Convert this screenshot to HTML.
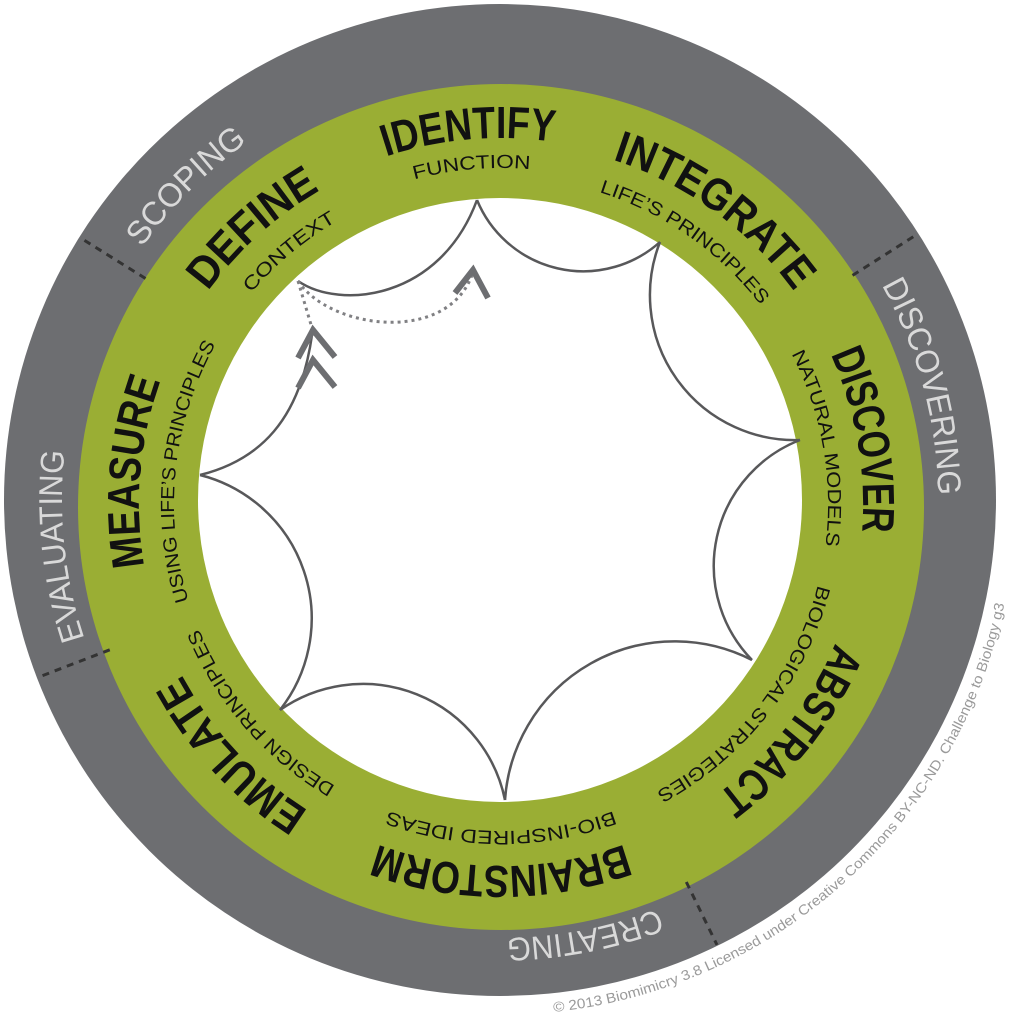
<!DOCTYPE html>
<html><head><meta charset="utf-8"><style>
html,body{margin:0;padding:0;background:#fff;}
svg{display:block;}
.t{font-family:"Liberation Sans",sans-serif;font-weight:bold;font-size:45px;fill:#111;}
.s{font-family:"Liberation Sans",sans-serif;font-size:19px;fill:#111;}
.g{font-family:"Liberation Sans",sans-serif;font-size:33px;fill:#d9d9d9;}
</style></head><body>
<svg width="1021" height="1023" viewBox="0 0 1021 1023" xmlns="http://www.w3.org/2000/svg">
<defs>
<path id="c362" d="M501,866 A362,362 0 1 1 501,142 A362,362 0 1 1 501,866"/>
<path id="c366" d="M501,870 A366,366 0 1 1 501,138 A366,366 0 1 1 501,870"/>
<path id="c327" d="M501,831 A327,327 0 1 1 501,177 A327,327 0 1 1 501,831"/>
<path id="c336" d="M501,840 A336,336 0 1 1 501,168 A336,336 0 1 1 501,840"/>
<path id="c438" d="M500,938 A438,438 0 1 1 500,62 A438,438 0 1 1 500,938"/>
<path id="cc" d="M553.8,1012 A515,515 0 0 0 1013,545"/>
</defs>
<circle cx="500" cy="500" r="496" fill="#6d6e71"/>
<circle cx="501" cy="507" r="423" fill="#9aae34"/>
<circle cx="500" cy="500" r="302" fill="#fff"/>
<g stroke="#333" stroke-width="3" stroke-dasharray="7 6">
<line x1="500" y1="82" x2="500" y2="5" transform="rotate(302 500 500)"/>
<line x1="500" y1="82" x2="500" y2="5" transform="rotate(57.5 500 500)"/>
<line x1="500" y1="75" x2="500" y2="5" transform="rotate(154 500 500)"/>
<line x1="500" y1="82" x2="500" y2="5" transform="rotate(249 500 500)"/>
</g>
<g fill="none" stroke="#58585a" stroke-width="2.5">
<path d="M298,281 C340,310 440,300 477,200"/>
<path d="M477,200 A115,115 0 0 0 660,242"/>
<path d="M660,242 A145,145 0 0 0 800,440"/>
<path d="M800,440 A135,135 0 0 0 752,660"/>
<path d="M752,660 A170,170 0 0 0 505,800"/>
<path d="M505,800 A145,145 0 0 0 280,710"/>
<path d="M280,710 A148,148 0 0 0 200,475"/>
<path d="M200,475 C260,460 300,420 312,335"/>
</g>
<g fill="none" stroke="#808083" stroke-width="3" stroke-dasharray="3 4">
<path d="M298,281 L312,328"/>
<path d="M298,281 C330,330 450,345 473,272"/>
</g>
<g fill="none" stroke="#6d6e71" stroke-width="6" stroke-linejoin="miter">
<polyline points="455,293 473,270 488,298"/>
<polyline points="298,358 313,330 335,357"/>
<polyline points="298,388 313,360 335,387"/>
</g>
<g class="t" text-anchor="middle">
<text transform="rotate(-5 501 504)"><textPath href="#c366" startOffset="50%" textLength="170" lengthAdjust="spacingAndGlyphs">IDENTIFY</textPath></text>
<text transform="rotate(36 501 504)"><textPath href="#c362" startOffset="50%" textLength="228" lengthAdjust="spacingAndGlyphs">INTEGRATE</textPath></text>
<text transform="rotate(80 501 504)"><textPath href="#c362" startOffset="50%" textLength="182" lengthAdjust="spacingAndGlyphs">DISCOVER</textPath></text>
<text transform="rotate(128 501 504)"><textPath href="#c362" startOffset="50%" textLength="195" lengthAdjust="spacingAndGlyphs">ABSTRACT</textPath></text>
<text transform="rotate(180 501 504)"><textPath href="#c362" startOffset="50%" textLength="252" lengthAdjust="spacingAndGlyphs">BRAINSTORM</textPath></text>
<text transform="rotate(227 501 504)"><textPath href="#c362" startOffset="50%" textLength="188" lengthAdjust="spacingAndGlyphs">EMULATE</textPath></text>
<text transform="rotate(275 501 504)"><textPath href="#c362" startOffset="50%" textLength="188" lengthAdjust="spacingAndGlyphs">MEASURE</textPath></text>
<text transform="rotate(318 501 504)"><textPath href="#c362" startOffset="50%" textLength="152" lengthAdjust="spacingAndGlyphs">DEFINE</textPath></text>
</g>
<g class="s" text-anchor="middle">
<text transform="rotate(-5 501 504)"><textPath href="#c336" startOffset="50%" textLength="117" lengthAdjust="spacingAndGlyphs">FUNCTION</textPath></text>
<text transform="rotate(35 501 504)"><textPath href="#c327" startOffset="50%" textLength="200" lengthAdjust="spacingAndGlyphs">LIFE’S PRINCIPLES</textPath></text>
<text transform="rotate(80 501 504)"><textPath href="#c327" startOffset="50%" textLength="198" lengthAdjust="spacingAndGlyphs">NATURAL MODELS</textPath></text>
<text transform="rotate(128 501 504)"><textPath href="#c327" startOffset="50%" textLength="270" lengthAdjust="spacingAndGlyphs">BIOLOGICAL STRATEGIES</textPath></text>
<text transform="rotate(180 501 504)"><textPath href="#c327" startOffset="50%" textLength="230" lengthAdjust="spacingAndGlyphs">BIO-INSPIRED IDEAS</textPath></text>
<text transform="rotate(229 501 504)"><textPath href="#c327" startOffset="50%" textLength="212" lengthAdjust="spacingAndGlyphs">DESIGN PRINCIPLES</textPath></text>
<text transform="rotate(276 501 504)"><textPath href="#c327" startOffset="50%" textLength="265" lengthAdjust="spacingAndGlyphs">USING LIFE’S PRINCIPLES</textPath></text>
<text transform="rotate(320 501 504)"><textPath href="#c327" startOffset="50%" textLength="112" lengthAdjust="spacingAndGlyphs">CONTEXT</textPath></text>
</g>
<g class="g" text-anchor="middle">
<text transform="rotate(315 500 500)"><textPath href="#c438" startOffset="50%" textLength="150" lengthAdjust="spacingAndGlyphs">SCOPING</textPath></text>
<text transform="rotate(75 500 500)"><textPath href="#c438" startOffset="50%" textLength="220" lengthAdjust="spacingAndGlyphs">DISCOVERING</textPath></text>
<text transform="rotate(169 500 500)"><textPath href="#c438" startOffset="50%" textLength="155" lengthAdjust="spacingAndGlyphs">CREATING</textPath></text>
<text transform="rotate(264 500 500)"><textPath href="#c438" startOffset="50%" textLength="190" lengthAdjust="spacingAndGlyphs">EVALUATING</textPath></text>
</g>
<text font-family="Liberation Sans, sans-serif" font-size="14" fill="#9a9a9a"><textPath href="#cc" textLength="650" lengthAdjust="spacingAndGlyphs">© 2013 Biomimicry 3.8   Licensed under Creative Commons BY-NC-ND. Challenge to Biology g3</textPath></text>
</svg>
</body></html>
